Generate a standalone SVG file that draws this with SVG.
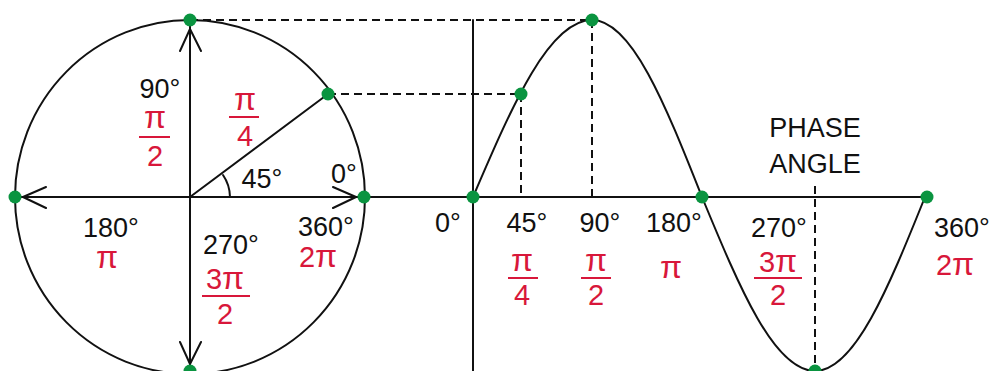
<svg xmlns="http://www.w3.org/2000/svg" width="989" height="371" viewBox="0 0 989 371">
<style>
.ln{fill:none;stroke:#111;stroke-width:2;stroke-linecap:round;stroke-linejoin:round}
.ds{fill:none;stroke:#111;stroke-width:2;stroke-dasharray:8 5}
.bar{stroke:#d8173a;stroke-width:2}
.dot{fill:#0a9440}
.t{font-family:"Liberation Sans",Arial,sans-serif;font-size:27px;fill:#111;text-anchor:middle}
.r{font-family:"Liberation Sans",Arial,sans-serif;font-size:29px;fill:#d8173a;text-anchor:middle}
.p{font-size:32px}
</style>
<rect width="989" height="371" fill="#fff"/>
<g id="connectors">
<path class="ds" d="M190 20H592M328 94H521M521 94V197M592 20V197M815 186V370"/>
</g>
<g id="circle">
<ellipse class="ln" cx="190" cy="197" rx="175" ry="177"/>
<path class="ln" d="M190 20V371M15 197H925M190 197L328 94"/>
<path class="ln" d="M180 51L190 29L201 51M180 342L190 364L201 342M46 187L23 197L46 208M333 187L356 197L333 208"/>
<path class="ln" d="M230 197A40 40 0 0 0 223 175"/>
</g>
<g id="wave">
<path class="ln" d="M473 20V371"/>
<path class="ln" d="M473 197C512.8 104.1 549.2 20 592 20C631.6 20 665.2 104.1 702 197C739.8 288.4 774.3 371 815 371C854.6 371 888.2 288.4 925 197"/>
</g>
<g id="dots">
<circle class="dot" cx="190" cy="20" r="6.5"/>
<circle class="dot" cx="328" cy="94" r="6.5"/>
<circle class="dot" cx="15" cy="197" r="6.5"/>
<circle class="dot" cx="364" cy="197" r="6.5"/>
<circle class="dot" cx="190" cy="371" r="6.5"/>
<circle class="dot" cx="473" cy="197" r="6.5"/>
<circle class="dot" cx="521" cy="94" r="6.5"/>
<circle class="dot" cx="592" cy="20" r="6.5"/>
<circle class="dot" cx="702" cy="197" r="6.5"/>
<circle class="dot" cx="815" cy="371" r="6.5"/>
<circle class="dot" cx="927" cy="197" r="6.5"/>
</g>
<g id="circle-labels">
<text class="t" x="160" y="98">90°</text>
<text class="r p" x="155" y="128">π</text>
<line class="bar" x1="139" y1="137" x2="170" y2="137"/>
<text class="r" x="155" y="166">2</text>
<text class="r p" x="245" y="110">π</text>
<line class="bar" x1="229" y1="117" x2="259" y2="117"/>
<text class="r" x="245" y="146">4</text>
<text class="t" x="262" y="188">45°</text>
<text class="t" x="344" y="183">0°</text>
<text class="t" x="111" y="237">180°</text>
<text class="r p" x="107" y="268">π</text>
<text class="t" x="231" y="254">270°</text>
<text class="r" x="225" y="289"><tspan>3</tspan><tspan class="p">π</tspan></text>
<line class="bar" x1="202" y1="296" x2="250" y2="296"/>
<text class="r" x="225" y="324">2</text>
<text class="t" x="326" y="236">360°</text>
<text class="r" x="318" y="267"><tspan>2</tspan><tspan class="p">π</tspan></text>
</g>
<g id="wave-labels">
<text class="t" x="448" y="232">0°</text>
<text class="t" x="527" y="232">45°</text>
<text class="r p" x="522" y="271">π</text>
<line class="bar" x1="508" y1="278" x2="538" y2="278"/>
<text class="r" x="522" y="305">4</text>
<text class="t" x="600" y="232">90°</text>
<text class="r p" x="596" y="271">π</text>
<line class="bar" x1="581" y1="278" x2="611" y2="278"/>
<text class="r" x="596" y="305">2</text>
<text class="t" x="674" y="232">180°</text>
<text class="r p" x="671" y="278">π</text>
<text class="t" x="779" y="237">270°</text>
<text class="r" x="778" y="272"><tspan>3</tspan><tspan class="p">π</tspan></text>
<line class="bar" x1="754" y1="278" x2="802" y2="278"/>
<text class="r" x="778" y="305">2</text>
<text class="t" x="962" y="237">360°</text>
<text class="r" x="955" y="275"><tspan>2</tspan><tspan class="p">π</tspan></text>
<text class="t" x="815" y="137">PHASE</text>
<text class="t" x="815" y="173">ANGLE</text>
</g>
</svg>
